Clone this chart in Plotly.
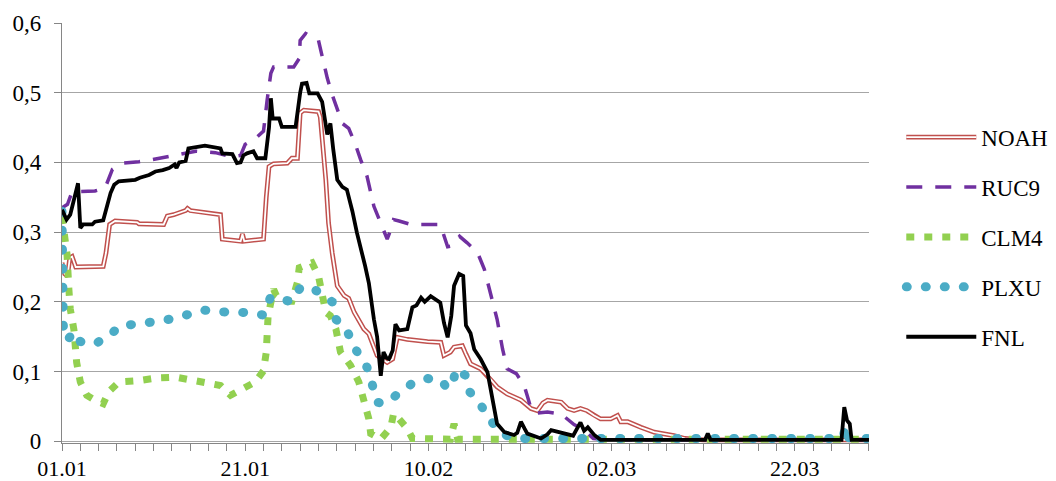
import plotly.graph_objects as go

# x values are days since 01.01
tick_days = [0, 20, 40, 60, 80]
tick_labels = ["01.01", "21.01", "10.02", "02.03", "22.03"]
y_ticks = [0, 0.1, 0.2, 0.3, 0.4, 0.5, 0.6]
y_labels = ["0", "0,1", "0,2", "0,3", "0,4", "0,5", "0,6"]

noah_x = [0, 0.3, 0.6, 0.85, 1.1, 1.35, 1.5, 4.5, 4.8, 5.2, 5.8, 8.2, 8.4, 11.1, 11.5, 12.2, 12.9, 13.5, 13.7, 14.0,
          17.3, 17.5, 19.5, 19.7, 19.9, 22.0, 22.3, 22.6, 23.1, 24.6, 25.1, 25.7, 26.0, 26.4, 28.0, 28.2, 28.8, 29.1,
          29.5, 30.05, 30.8, 31.3, 31.9, 32.95, 33.5, 34.4, 35.5, 36.1, 36.6, 37.7, 39.9, 41.35, 41.7, 42.4, 42.8,
          43.7, 44.1, 44.6, 45.7, 46.45, 47.5, 48.6, 50.1, 51.2, 51.9, 52.5, 53.0, 54.5, 55.2, 55.9, 56.6, 57.3,
          58.1, 58.8, 59.9, 60.65, 61.0, 61.75, 63.2, 64.65, 66.8, 68.0, 70.0, 88.1]
noah_y = [0.256, 0.24, 0.237, 0.263, 0.265, 0.255, 0.25, 0.251, 0.27, 0.311, 0.316, 0.314, 0.312, 0.311, 0.323, 0.325,
          0.328, 0.331, 0.334, 0.331, 0.325, 0.29, 0.287, 0.297, 0.287, 0.29, 0.35, 0.394, 0.398, 0.399, 0.406, 0.406,
          0.471, 0.475, 0.473, 0.465, 0.375, 0.313, 0.27, 0.223, 0.209, 0.205, 0.185, 0.161, 0.154, 0.123, 0.113,
          0.118, 0.149, 0.146, 0.143, 0.142, 0.123, 0.128, 0.135, 0.137, 0.125, 0.111, 0.104, 0.094, 0.078, 0.068,
          0.059, 0.047, 0.044, 0.055, 0.059, 0.056, 0.047, 0.044, 0.047, 0.044, 0.037, 0.032, 0.032, 0.037, 0.028,
          0.028, 0.02, 0.013, 0.008, 0.004, 0.002, 0.002]

ruc9_x = [0, 0.6, 1.1, 3.6, 4.7, 5.5, 6.6, 8.4, 9.85, 11.65, 12.75, 14.6, 16.75, 17.5, 18.5, 19.5, 20.0, 21.0, 22.0,
          22.4, 22.8, 23.1, 25.3, 25.9, 26.0, 26.6, 27.2, 28.0, 28.4, 28.96, 29.5, 30.05, 30.6, 31.3, 32.05, 32.6,
          33.3, 34.05, 34.6, 35.5, 36.05, 36.2, 36.8, 38.1, 41.3, 42.1, 42.5, 43.4, 44.2, 45.35, 46.1, 46.8, 47.5,
          48.1, 48.6, 49.6, 50.45, 50.8, 51.2, 51.7, 53.0, 54.5, 55.9, 56.8, 58.0, 60.0, 88.1]
ruc9_y = [0.335, 0.34, 0.358, 0.359, 0.363, 0.39, 0.399, 0.401, 0.404, 0.409, 0.411, 0.416, 0.414, 0.411, 0.408,
          0.41, 0.426, 0.433, 0.445, 0.49, 0.528, 0.537, 0.537, 0.549, 0.575, 0.585, 0.58, 0.575, 0.551, 0.521,
          0.497, 0.478, 0.456, 0.449, 0.425, 0.404, 0.38, 0.337, 0.318, 0.29, 0.309, 0.318, 0.316, 0.311, 0.311,
          0.279, 0.28, 0.294, 0.285, 0.271, 0.247, 0.213, 0.175, 0.132, 0.104, 0.097, 0.08, 0.065, 0.047, 0.04,
          0.042, 0.039, 0.024, 0.018, 0.004, 0.002, 0.002]

clm4_x = [0, 0.3, 0.55, 0.75, 0.9, 1.3, 1.6, 2.0, 2.7, 3.6, 4.5, 5.1, 6.2, 8.4, 10.5, 12.4, 13.8, 15.7, 17.3, 18.4,
          19.85, 21.1, 22.0, 22.3, 22.5, 23.1, 23.4, 24.2, 25.1, 25.7, 25.9, 26.8, 27.3, 28.0, 28.4, 28.8, 29.3,
          29.9, 30.4, 31.5, 32.4, 33.0, 33.5, 33.7, 34.8, 35.9, 36.2, 36.6, 37.7, 38.25, 42.4, 42.8, 43.2, 88.1]
clm4_y = [0.323, 0.3, 0.268, 0.218, 0.19, 0.16, 0.113, 0.085, 0.066, 0.059, 0.054, 0.071, 0.085, 0.087, 0.091,
          0.092, 0.088, 0.085, 0.08, 0.066, 0.075, 0.085, 0.101, 0.128, 0.18, 0.218, 0.209, 0.201, 0.201, 0.228,
          0.249, 0.254, 0.256, 0.237, 0.213, 0.185, 0.18, 0.161, 0.128, 0.109, 0.085, 0.056, 0.032, 0.011, 0.003,
          0.02, 0.04, 0.035, 0.018, 0.004, 0.003, 0.025, 0.003, 0.003]

plxu_x = [0, 0.15, 0.5, 1.0, 1.45, 2.0, 3.5, 5.0, 6.4, 8.3, 10.3, 12.2, 13.8, 15.4, 16.75, 18.65, 20.2, 22.0, 22.75,
          23.3, 25.0, 26.0, 27.1, 28.6, 29.5, 29.9, 31.1, 31.9, 32.8, 33.3, 33.9, 34.4, 35.1, 36.2, 37.3, 38.4,
          39.9, 41.5, 41.9, 42.6, 43.0, 44.1, 44.5, 45.6, 46.6, 47.5, 48.8, 50.0, 85.2, 85.6, 85.9, 88.1]
plxu_y = [0.33, 0.165, 0.145, 0.152, 0.157, 0.143, 0.139, 0.15, 0.166, 0.168, 0.171, 0.176, 0.182, 0.188, 0.187,
          0.184, 0.185, 0.181, 0.206, 0.207, 0.2, 0.22, 0.222, 0.209, 0.2, 0.175, 0.159, 0.135, 0.116, 0.106, 0.08,
          0.056, 0.054, 0.063, 0.073, 0.085, 0.09, 0.087, 0.078, 0.078, 0.104, 0.094, 0.071, 0.054, 0.035, 0.017,
          0.006, 0.004, 0.004, 0.022, 0.004, 0.004]

fnl_x = [0, 0.5, 0.9, 1.4, 1.75, 2.0, 2.3, 3.3, 3.6, 4.5, 4.8, 5.3, 5.7, 6.2, 8.0, 8.5, 9.5, 10.2, 11.0, 11.7, 12.3,
         12.5, 12.8, 13.5, 13.8, 15.6, 17.3, 17.5, 18.6, 19.1, 19.5, 19.8, 20.2, 20.9, 21.3, 22.2, 22.6, 22.8, 23.0,
         23.7, 24.0, 25.5, 26.0, 26.2, 26.7, 27.0, 27.9, 28.4, 28.96, 29.3, 29.6, 30.05, 30.6, 31.1, 31.7, 32.2,
         33.1, 33.5, 34.05, 34.4, 34.8, 35.1, 35.4, 35.7, 36.1, 36.4, 36.8, 37.7, 38.25, 38.7, 39.2, 39.6, 40.25,
         40.8, 41.3, 41.7, 42.1, 42.5, 42.8, 43.35, 43.8, 44.1, 44.6, 45.0, 45.7, 46.45, 47.0, 47.5, 48.3, 49.35,
         49.7, 50.1, 50.5, 50.8, 52.3, 53.0, 53.4, 54.8, 55.8, 56.6, 57.0, 57.4, 58.1, 58.8, 70.2, 70.5, 70.8,
         85.1, 85.4, 85.7, 86.0, 86.2, 88.1]
fnl_y = [0.332, 0.318, 0.325, 0.35, 0.37, 0.306, 0.311, 0.311, 0.315, 0.317, 0.33, 0.356, 0.368, 0.373, 0.375, 0.378,
         0.382, 0.387, 0.389, 0.392, 0.397, 0.392, 0.4, 0.402, 0.42, 0.424, 0.42, 0.413, 0.412, 0.399, 0.4, 0.41,
         0.413, 0.416, 0.406, 0.406, 0.45, 0.492, 0.463, 0.463, 0.451, 0.451, 0.5, 0.513, 0.514, 0.499, 0.499,
         0.487, 0.44, 0.456, 0.42, 0.375, 0.365, 0.361, 0.33, 0.299, 0.251, 0.227, 0.175, 0.15, 0.094, 0.128,
         0.12, 0.118, 0.13, 0.168, 0.159, 0.161, 0.192, 0.195, 0.206, 0.2, 0.208, 0.204, 0.199, 0.17, 0.149, 0.18,
         0.223, 0.24, 0.237, 0.166, 0.155, 0.132, 0.118, 0.099, 0.061, 0.025, 0.013, 0.009, 0.012, 0.028, 0.018,
         0.011, 0.004, 0.01, 0.016, 0.011, 0.008, 0.027, 0.015, 0.02, 0.009, 0.002, 0.002, 0.011, 0.002, 0.002,
         0.049, 0.03, 0.025, 0.002, 0.002]

FONT = "Liberation Serif"
GRID = "#A6A6A6"
AXIS = "#868686"

fig = go.Figure()
fig.add_trace(go.Scatter(x=noah_x, y=noah_y, mode="lines", name="NOAH", legendgroup="NOAH",
                         line=dict(color="#C0504D", width=4.8)))
fig.add_trace(go.Scatter(x=noah_x, y=noah_y, mode="lines", name="NOAH", legendgroup="NOAH", showlegend=False,
                         line=dict(color="#FFFFFF", width=1.8), hoverinfo="skip"))
fig.add_trace(go.Scatter(x=ruc9_x, y=ruc9_y, mode="lines", name="RUC9", legendgroup="RUC9",
                         line=dict(color="#7030A0", width=3.5, dash="16px,13px")))
fig.add_trace(go.Scatter(x=clm4_x, y=clm4_y, mode="lines", name="CLM4", legendgroup="CLM4",
                         line=dict(color="#92D050", width=7, dash="8px,10px")))
fig.add_trace(go.Scatter(x=plxu_x, y=plxu_y, mode="lines", name="PLXU", legendgroup="PLXU",
                         line=dict(color="#4BACC6", width=9, dash="1px,18px")))
fig.add_trace(go.Scatter(x=fnl_x, y=fnl_y, mode="lines", name="FNL", legendgroup="FNL",
                         line=dict(color="#000000", width=3.8)))

fig.update_layout(
    width=1056, height=481,
    margin=dict(l=62, r=187, t=23, b=38, autoexpand=False),
    paper_bgcolor="white", plot_bgcolor="white",
    font=dict(family=FONT, size=23, color="black"),
    showlegend=True,
    legend=dict(x=1.04, y=0.49, xanchor="left", yanchor="middle", font=dict(size=23, family=FONT),
                itemwidth=70, tracegroupgap=17, traceorder="grouped", bgcolor="rgba(0,0,0,0)"),
)
fig.update_xaxes(
    range=[0, 88.1], tickmode="array", tickvals=tick_days, ticktext=tick_labels,
    showline=True, linecolor=AXIS, linewidth=1.3, ticks="outside", ticklen=7, tickwidth=1.3,
    tickcolor=AXIS, showgrid=False, zeroline=False, ticklabelstandoff=-2,
    tickfont=dict(size=22, family=FONT),
    minor=dict(dtick=2, tick0=0, ticks="outside", ticklen=7, tickwidth=1.3, tickcolor=AXIS, showgrid=False),
)
fig.update_yaxes(
    range=[-0.0025, 0.6], tickmode="array", tickvals=y_ticks, ticktext=y_labels,
    showgrid=True, gridcolor=GRID, gridwidth=1.3, showline=True, linecolor=AXIS, linewidth=1.3,
    ticks="outside", ticklen=7, tickwidth=1.3, tickcolor=AXIS, zeroline=False, ticklabelstandoff=8,
)

post_js = """
document.documentElement.style.margin = '0';
document.documentElement.style.padding = '0';
document.documentElement.style.overflow = 'hidden';
document.body.style.margin = '0';
document.body.style.padding = '0';
document.body.style.overflow = 'hidden';
var gd = document.getElementById('{plot_id}');
function fixStyles(){
  var traces = gd.querySelectorAll('.scatterlayer .trace');
  if (traces.length > 4) {
    traces[4].querySelectorAll('path.js-line').forEach(function(p){ p.style.strokeLinecap = 'round'; });
  }
  var leg = gd.querySelectorAll('.legend .traces');
  if (leg.length > 3) {
    leg[3].querySelectorAll('path.js-line').forEach(function(p){ p.style.strokeLinecap = 'round'; });
    var p = leg[0].querySelector('path.js-line');
    if (p && !p.parentNode.querySelector('.inner-white')) {
      var c = p.cloneNode(true);
      c.setAttribute('class', 'inner-white');
      c.style.stroke = '#ffffff';
      c.style.strokeWidth = '1.8px';
      p.parentNode.appendChild(c);
    }
  }
}
fixStyles();
gd.on('plotly_afterplot', fixStyles);
"""

fig.write_html("out.html", post_script=post_js, config={"displayModeBar": False})
